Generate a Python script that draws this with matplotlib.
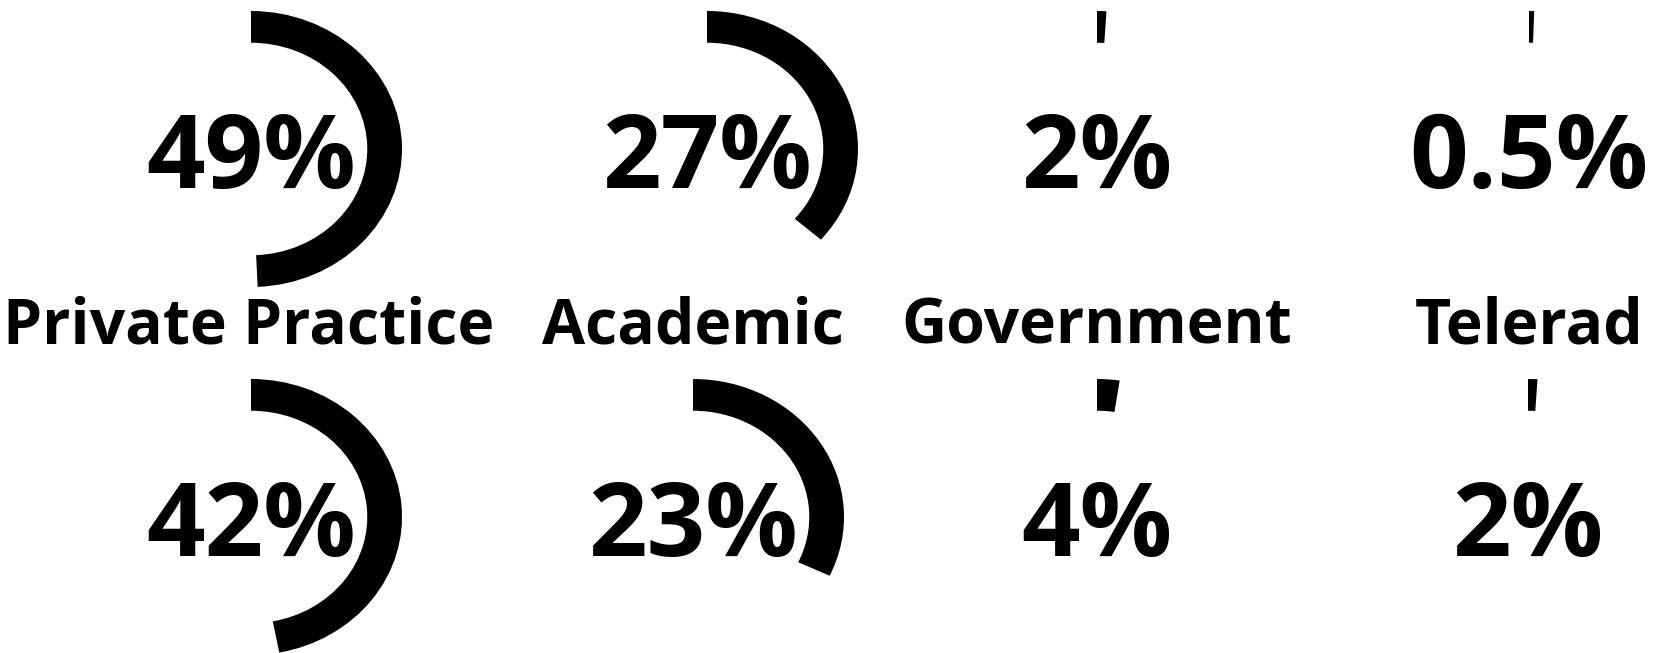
import matplotlib
matplotlib.use("Agg")
import matplotlib.pyplot as plt

# practice settings, two survey groups (top row / bottom row)
categories = ["Private Practice", "Academic", "Government", "Telerad"]
top_labels = ["49%", "27%", "2%", "0.5%"]
bottom_labels = ["42%", "23%", "4%", "2%"]
# sweep of each drawn arc, in percent of a full turn
top_arc = [49.3, 36.4, 1.0, 0.55]
bottom_arc = [47.0, 32.0, 2.4, 1.0]

W, H = 1654, 653
plt.rcParams['font.family'] = ['Open Sans', 'DejaVu Sans']

fig = plt.figure(figsize=(W / 100, H / 100), dpi=100)
fig.patch.set_facecolor('white')

# ring centres in pixels, ring half-width / half-height
top_cx = [251, 707, 1097, 1529]
bottom_cx = [251, 693, 1097, 1528]
top_cy, bottom_cy = 149, 517
rx, ry = 151, 138
label_cx = [249, 693, 1097, 1529]
label_base = 344


def ring(cx, cy, value, text):
    ax = fig.add_axes([(cx - rx) / W, 1 - (cy + ry) / H, 2 * rx / W, 2 * ry / H])
    ax.pie([value, 100 - value], startangle=90, counterclock=False,
           colors=['black', 'none'], radius=1,
           wedgeprops=dict(width=0.23, linewidth=0))
    ax.set_aspect('auto')
    ax.set_xlim(-1, 1)
    ax.set_ylim(-1, 1)
    ax.axis('off')
    ax.text(0, -39 / ry, text, ha='center', va='baseline',
            fontsize=74, fontweight='bold', color='black')


for i in range(len(categories)):
    ring(top_cx[i], top_cy, top_arc[i], top_labels[i])
    ring(bottom_cx[i], bottom_cy, bottom_arc[i], bottom_labels[i])
    fig.text(label_cx[i] / W, 1 - label_base / H, categories[i],
             ha='center', va='baseline', fontsize=45, fontweight='bold',
             color='black')

fig.savefig("out.png", dpi=100, facecolor='white')
